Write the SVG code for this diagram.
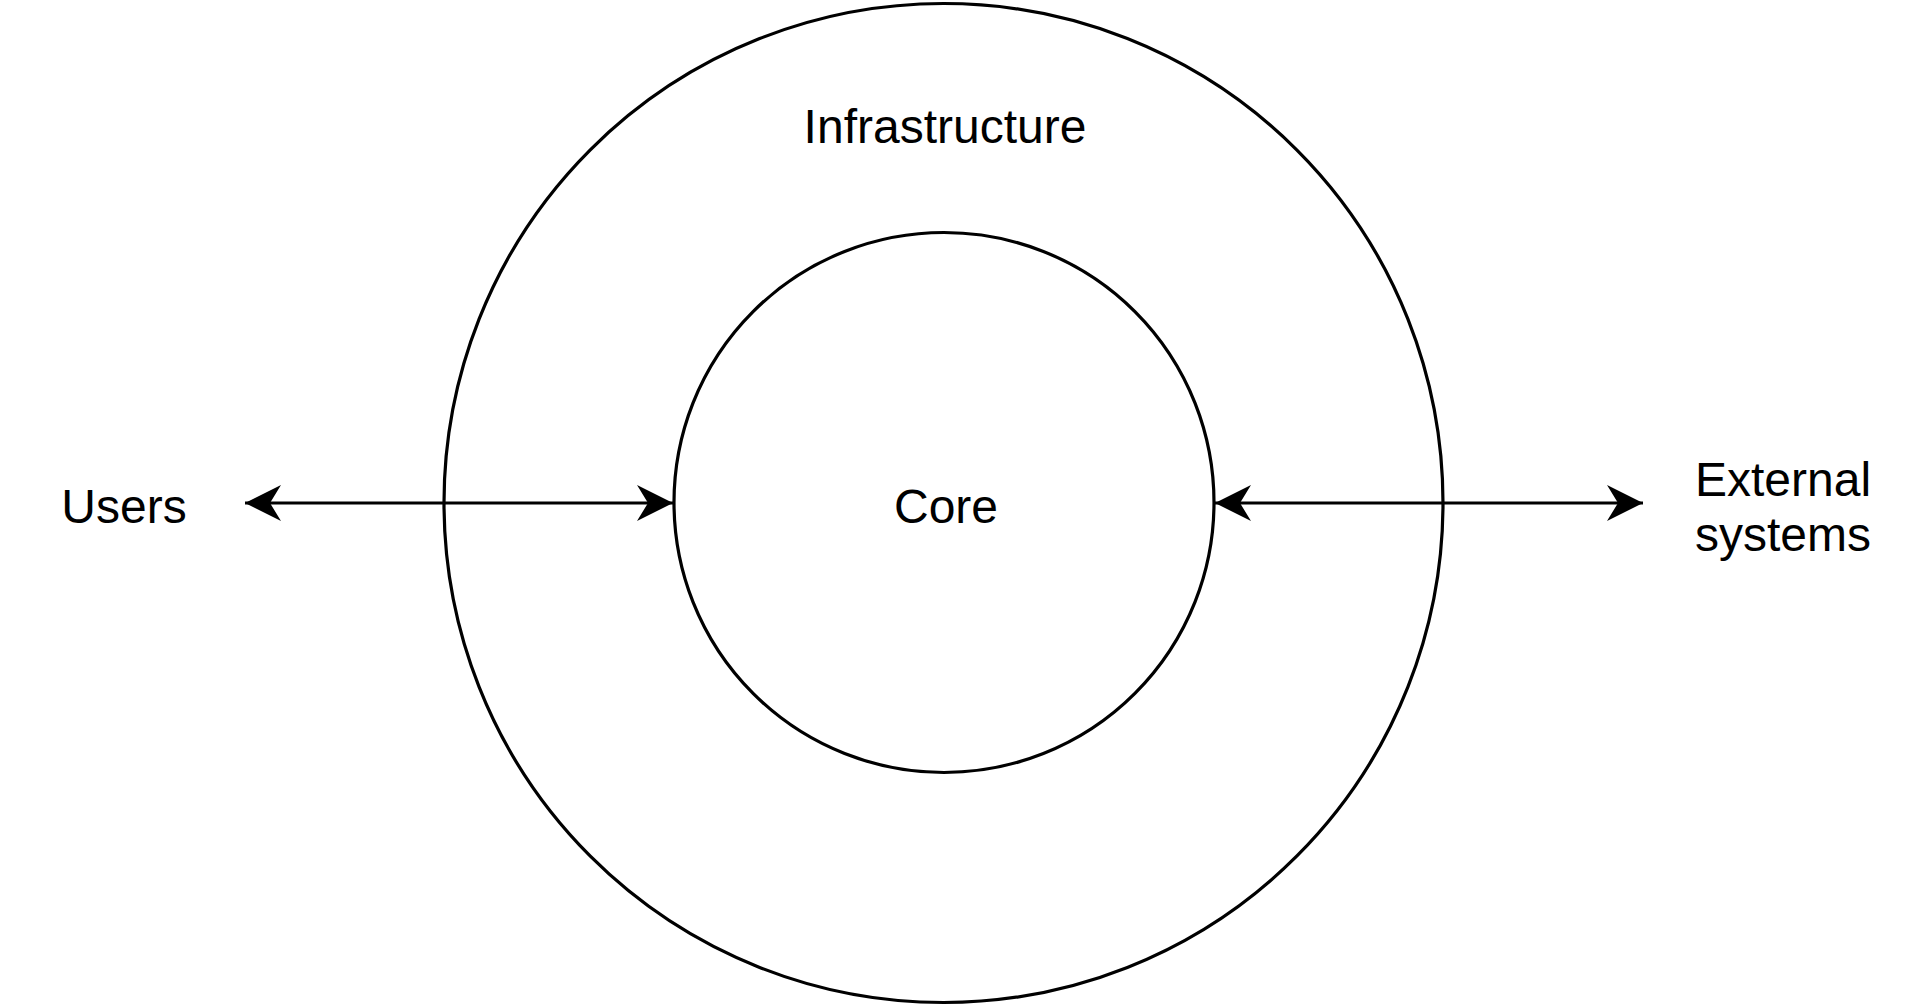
<svg xmlns="http://www.w3.org/2000/svg" width="1928" height="1007" viewBox="0 0 1928 1007">
<style>
.ring{fill:none;stroke:#000;stroke-width:3.2}
.lbl{font-family:"Liberation Sans",Arial,sans-serif;font-size:48px;fill:#000}
.conn{stroke:#000;stroke-width:3.2;fill:none}
</style>
<defs>
<marker id="ah" viewBox="0 0 40 40" refX="36" refY="20" markerWidth="40" markerHeight="40" markerUnits="userSpaceOnUse" orient="auto-start-reverse">
<path d="M0,2 L36,20 L0,38 L11,20 Z" fill="#000"/>
</marker>
</defs>
<rect width="1928" height="1007" fill="#fff"/>
<g id="infrastructure">
<circle class="ring" cx="943.5" cy="503" r="499.5"/>
<text class="lbl" x="945" y="143" text-anchor="middle">Infrastructure</text>
</g>
<g id="core">
<circle class="ring" cx="944" cy="502.5" r="270"/>
<text class="lbl" x="946" y="523" text-anchor="middle">Core</text>
</g>
<g id="users">
<text class="lbl" x="124" y="523" text-anchor="middle">Users</text>
</g>
<g id="external">
<text class="lbl" x="1783" y="496" text-anchor="middle">External</text>
<text class="lbl" x="1783" y="551" text-anchor="middle">systems</text>
</g>
<g id="connectors">
<line class="conn" x1="245" y1="503" x2="673" y2="503" marker-start="url(#ah)" marker-end="url(#ah)"/>
<line class="conn" x1="1215" y1="503" x2="1643" y2="503" marker-start="url(#ah)" marker-end="url(#ah)"/>
</g>
</svg>
